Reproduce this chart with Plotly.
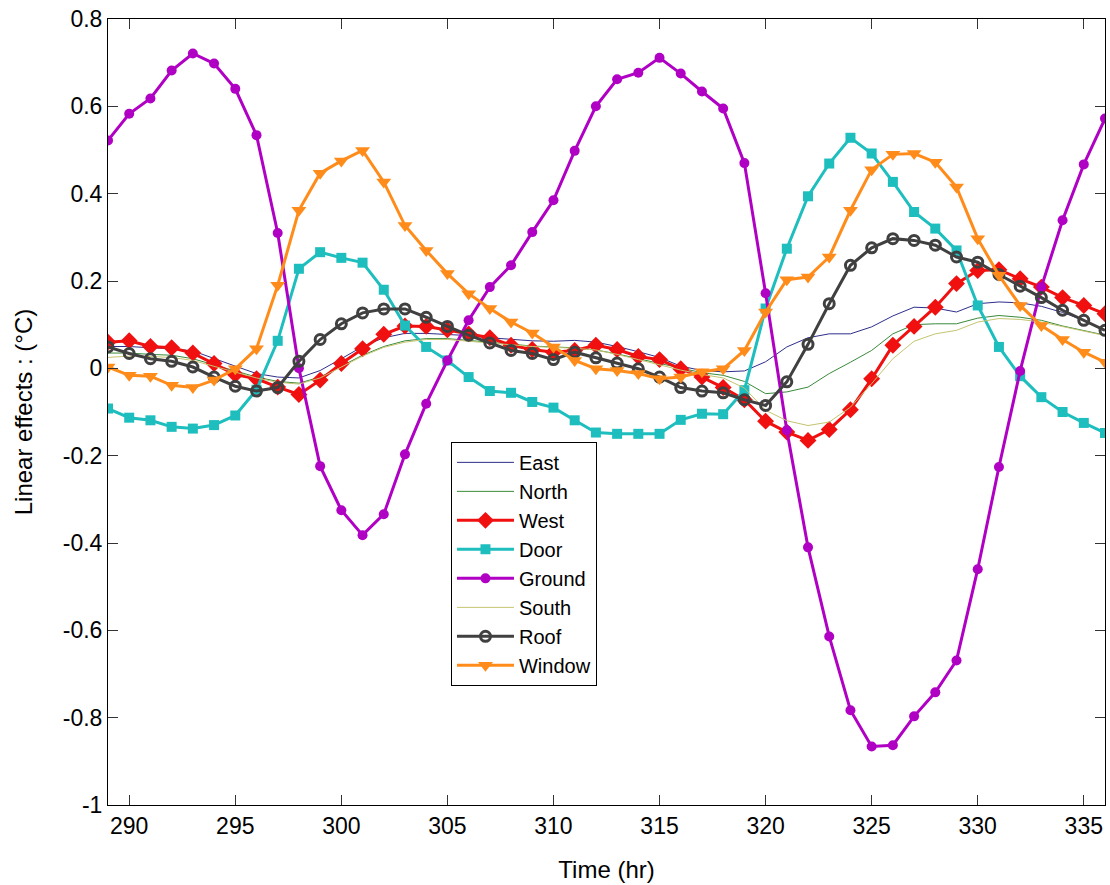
import plotly.graph_objects as go

hours = list(range(289, 337))

east = [0.050, 0.050, 0.047, 0.045, 0.040, 0.022, 0.005, -0.012, -0.020, -0.022,
        -0.005, 0.022, 0.050, 0.070, 0.080, 0.080, 0.078, 0.075, 0.070, 0.066,
        0.063, 0.062, 0.064, 0.060, 0.050, 0.038, 0.025, 0.005, -0.005, -0.008,
        -0.006, 0.015, 0.049, 0.070, 0.079, 0.079, 0.095, 0.120, 0.140, 0.138,
        0.129, 0.148, 0.152, 0.150, 0.142, 0.128, 0.110, 0.088]
north = [0.035, 0.035, 0.032, 0.030, 0.022, 0.008, -0.006, -0.020, -0.030, -0.034,
         -0.020, 0.005, 0.030, 0.050, 0.063, 0.068, 0.068, 0.064, 0.060, 0.055,
         0.051, 0.049, 0.047, 0.042, 0.033, 0.022, 0.011, 0.000, -0.010, -0.016,
         -0.030, -0.058, -0.054, -0.043, -0.012, 0.014, 0.041, 0.079, 0.100, 0.102,
         0.102, 0.115, 0.121, 0.117, 0.110, 0.097, 0.086, 0.076]
west = [0.060, 0.063, 0.050, 0.047, 0.035, 0.011, -0.014, -0.024, -0.043, -0.060,
        -0.027, 0.011, 0.045, 0.078, 0.097, 0.096, 0.088, 0.079, 0.070, 0.053,
        0.043, 0.037, 0.041, 0.053, 0.043, 0.027, 0.020, -0.001, -0.020, -0.044,
        -0.072, -0.121, -0.146, -0.165, -0.140, -0.095, -0.024, 0.053, 0.096, 0.140,
        0.194, 0.224, 0.226, 0.205, 0.186, 0.162, 0.144, 0.125]
door = [-0.092, -0.113, -0.119, -0.134, -0.138, -0.130, -0.108, -0.049, 0.063, 0.228,
        0.266, 0.253, 0.242, 0.180, 0.098, 0.049, 0.018, -0.020, -0.052, -0.056,
        -0.077, -0.090, -0.119, -0.147, -0.150, -0.150, -0.150, -0.118, -0.104, -0.105,
        -0.050, 0.137, 0.274, 0.394, 0.469, 0.528, 0.492, 0.427, 0.358, 0.320,
        0.270, 0.144, 0.049, -0.018, -0.066, -0.100, -0.125, -0.148]
ground = [0.522, 0.583, 0.618, 0.682, 0.721, 0.698, 0.640, 0.534, 0.310, 0.000,
          -0.224, -0.325, -0.382, -0.334, -0.197, -0.081, 0.018, 0.110, 0.186, 0.236,
          0.312, 0.385, 0.498, 0.600, 0.662, 0.677, 0.711, 0.675, 0.634, 0.595,
          0.470, 0.172, -0.142, -0.410, -0.614, -0.783, -0.866, -0.863, -0.797, -0.742,
          -0.669, -0.460, -0.226, -0.006, 0.186, 0.339, 0.467, 0.572]
south = [0.025, 0.028, 0.027, 0.025, 0.018, 0.005, -0.008, -0.022, -0.032, -0.036,
         -0.022, 0.003, 0.028, 0.048, 0.060, 0.066, 0.066, 0.062, 0.058, 0.053,
         0.050, 0.048, 0.046, 0.042, 0.032, 0.020, 0.008, -0.004, -0.014, -0.022,
         -0.045, -0.096, -0.120, -0.131, -0.123, -0.089, -0.035, 0.022, 0.062, 0.079,
         0.087, 0.106, 0.114, 0.112, 0.106, 0.096, 0.085, 0.075]
roof = [0.049, 0.034, 0.022, 0.016, 0.003, -0.020, -0.041, -0.052, -0.044, 0.016,
        0.066, 0.102, 0.127, 0.136, 0.136, 0.117, 0.096, 0.076, 0.058, 0.041,
        0.034, 0.020, 0.037, 0.024, 0.012, -0.001, -0.020, -0.044, -0.052, -0.056,
        -0.072, -0.085, -0.031, 0.055, 0.148, 0.236, 0.276, 0.297, 0.293, 0.282,
        0.255, 0.243, 0.215, 0.188, 0.162, 0.133, 0.110, 0.087]
window = [0.003, -0.016, -0.018, -0.039, -0.044, -0.027, -0.001, 0.045, 0.190, 0.362,
          0.447, 0.475, 0.499, 0.427, 0.327, 0.270, 0.217, 0.171, 0.137, 0.106,
          0.081, 0.049, 0.018, -0.001, -0.005, -0.012, -0.024, -0.020, -0.008, -0.001,
          0.041, 0.129, 0.203, 0.209, 0.255, 0.362, 0.455, 0.490, 0.492, 0.472,
          0.415, 0.297, 0.213, 0.144, 0.098, 0.066, 0.037, 0.014]

y_ticks = [-1, -0.8, -0.6, -0.4, -0.2, 0, 0.2, 0.4, 0.6, 0.8]
y_ticktext = ["-1", "-0.8", "-0.6", "-0.4", "-0.2", "0", "0.2", "0.4", "0.6", "0.8"]
x_ticks = [290, 295, 300, 305, 310, 315, 320, 325, 330, 335]

FONT = "Arial, Liberation Sans, sans-serif"

fig = go.Figure()

def thin(name, y, color):
    fig.add_trace(go.Scatter(x=hours, y=y, name=name, mode="lines",
                             line=dict(color=color, width=1)))

def marked(name, y, color, symbol, size, mcolor=None, mline=0):
    fig.add_trace(go.Scatter(
        x=hours, y=y, name=name, mode="lines+markers",
        line=dict(color=color, width=3),
        marker=dict(symbol=symbol, size=size, color=mcolor or color,
                    line=dict(color=color, width=mline))))

thin("East", east, "#2E2E8C")
thin("North", north, "#3A8A3A")
marked("West", west, "#F01010", "diamond", 13)
marked("Door", door, "#1EBEBE", "square", 10)
marked("Ground", ground, "#B000C4", "circle", 10)
thin("South", south, "#C4C470")
marked("Roof", roof, "#404040", "circle-open", 10, mline=3)
marked("Window", window, "#FF8C1A", "triangle-down", 13)

fig.update_layout(
    width=1110, height=885,
    margin=dict(l=108, r=5, t=19, b=80),
    paper_bgcolor="white", plot_bgcolor="white",
    font=dict(family=FONT, size=23, color="black"),
    showlegend=True,
    legend=dict(x=0.344, y=0.462, xanchor="left", yanchor="top",
                bgcolor="white", bordercolor="black", borderwidth=1,
                font=dict(family=FONT, size=20, color="black"),
                itemwidth=57, tracegroupgap=0),
)
fig.update_xaxes(range=[289, 336], tickvals=x_ticks, ticks="inside", ticklen=10,
                 tickcolor="#333333", showline=True, linecolor="black", linewidth=1,
                 mirror="ticks", showgrid=False, zeroline=False,
                 tickfont=dict(size=23),
                 title=dict(text="Time (hr)", font=dict(size=24), standoff=23))
fig.update_yaxes(range=[-1, 0.8], tickvals=y_ticks, ticktext=y_ticktext,
                 ticks="inside", ticklen=10, tickcolor="#333333",
                 showline=True, linecolor="black", linewidth=1,
                 mirror="ticks", showgrid=False, zeroline=False,
                 tickfont=dict(size=23),
                 title=dict(text="Linear effects : (°C)", font=dict(size=24), standoff=23))

fig.write_html("out.html")
